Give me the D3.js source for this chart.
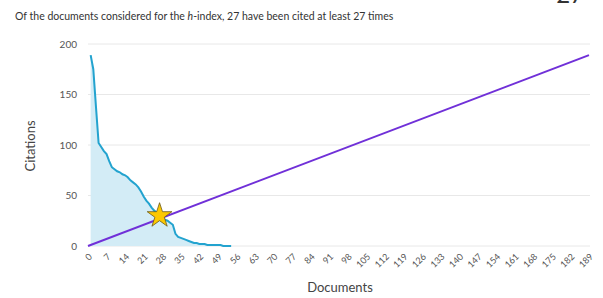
<!DOCTYPE html>
<html>
<head>
<meta charset="utf-8">
<script src="https://cdn.jsdelivr.net/npm/d3@7"></script>
<style>
  body { margin: 0; background: #fff; }
  svg { font-family: Lato, "Open Sans", sans-serif; }
</style>
</head>
<body>
<div class="chart"></div>
<script>
// citations per document, sorted (documents 1..54)
const documents = d3.range(1, 55);
const citations = [189, 175, 138, 102, 98, 94, 91, 84, 78, 76,
    74, 73, 71, 70, 68, 65, 63, 61, 58, 54,
    49, 45, 42, 38, 35, 33, 30, 27, 26, 25,
    23, 21, 12, 9, 8, 7, 6, 5, 4, 3,
    3, 2, 2, 2, 1, 1, 1, 1, 1, 1,
    0, 0, 0, 0];
const hIndex = 27;
const diagonal = [0, 189];
const yTicks = [0, 50, 100, 150, 200];
const xTicks = d3.range(0, 190, 7);

let svg = d3.select(".chart").append("svg")
    .attr("width", 603)
    .attr("height", 298);

let x = d3.scaleLinear().domain([0, 189]).range([88, 589]);
let y = d3.scaleLinear().domain([0, 200]).range([246, 44]);

// title
let title = svg.append("text")
    .attr("x", 15)
    .attr("y", 20)
    .style("font-size", "10.5px")
    .style("fill", "#333");
title.append("tspan").text("Of the documents considered for the ");
title.append("tspan").style("font-style", "italic").text("h");
title.append("tspan").text("-index, " + hIndex + " have been cited at least " + hIndex + " times");

// big number, cut by the top edge as in the original
svg.append("text")
    .attr("x", 584)
    .attr("y", 3)
    .attr("text-anchor", "end")
    .style("font-size", "24px")
    .style("fill", "#333")
    .text(hIndex);

// gridlines
svg.selectAll(".grid")
    .data(yTicks)
    .enter()
    .append("line")
    .attr("x1", 88)
    .attr("x2", 590)
    .attr("y1", d => y(d))
    .attr("y2", d => y(d))
    .style("stroke", "#e8e8e8")
    .style("stroke-width", 1);

// y axis
let yAxis = svg.append("g")
    .attr("transform", "translate(77,0)")
    .call(d3.axisLeft(y).tickValues(yTicks).tickSize(0).tickPadding(0));
yAxis.select(".domain").remove();
yAxis.selectAll("text")
    .style("font-family", "Lato, 'Open Sans', sans-serif")
    .style("font-size", "10px")
    .style("fill", "#555");

// x axis
let xAxis = svg.append("g")
    .attr("transform", "translate(0,252)")
    .call(d3.axisBottom(x).tickValues(xTicks).tickSize(0).tickPadding(0));
xAxis.select(".domain").remove();
xAxis.selectAll("text")
    .style("font-family", "Lato, 'Open Sans', sans-serif")
    .style("font-size", "9px")
    .style("fill", "#555")
    .attr("text-anchor", "end")
    .attr("dy", "0.35em")
    .attr("transform", "translate(2,3) rotate(-45)");

// axis titles
svg.append("text")
    .attr("transform", "translate(35,146) rotate(-90)")
    .attr("text-anchor", "middle")
    .style("font-size", "13px")
    .style("fill", "#444")
    .text("Citations");

svg.append("text")
    .attr("x", 340)
    .attr("y", 292)
    .attr("text-anchor", "middle")
    .style("font-size", "13px")
    .style("fill", "#444")
    .text("Documents");

// area under the citation curve
let area = d3.area()
    .x((d, i) => x(documents[i]))
    .y0(y(0))
    .y1(d => y(d));

svg.append("path")
    .datum(citations)
    .attr("d", area)
    .style("fill", "#d3ecf6");

let line = d3.line()
    .x((d, i) => x(documents[i]))
    .y(d => y(d));

svg.append("path")
    .datum(citations)
    .attr("d", line)
    .style("fill", "none")
    .style("stroke", "#23a3cf")
    .style("stroke-width", 2);

// diagonal citations = documents
svg.append("line")
    .attr("x1", x(diagonal[0]))
    .attr("y1", y(diagonal[0]))
    .attr("x2", x(diagonal[1]))
    .attr("y2", y(diagonal[1]))
    .style("stroke", "#7030d8")
    .style("stroke-width", 2);

// star at h-index
svg.append("path")
    .attr("d", d3.symbol().type(d3.symbolStar).size(190))
    .attr("transform", `translate(${x(hIndex)},${y(citations[hIndex - 1])})`)
    .style("fill", "#fcc800")
    .style("stroke", "#6b5a1a")
    .style("stroke-width", 0.8);
</script>
</body>
</html>
